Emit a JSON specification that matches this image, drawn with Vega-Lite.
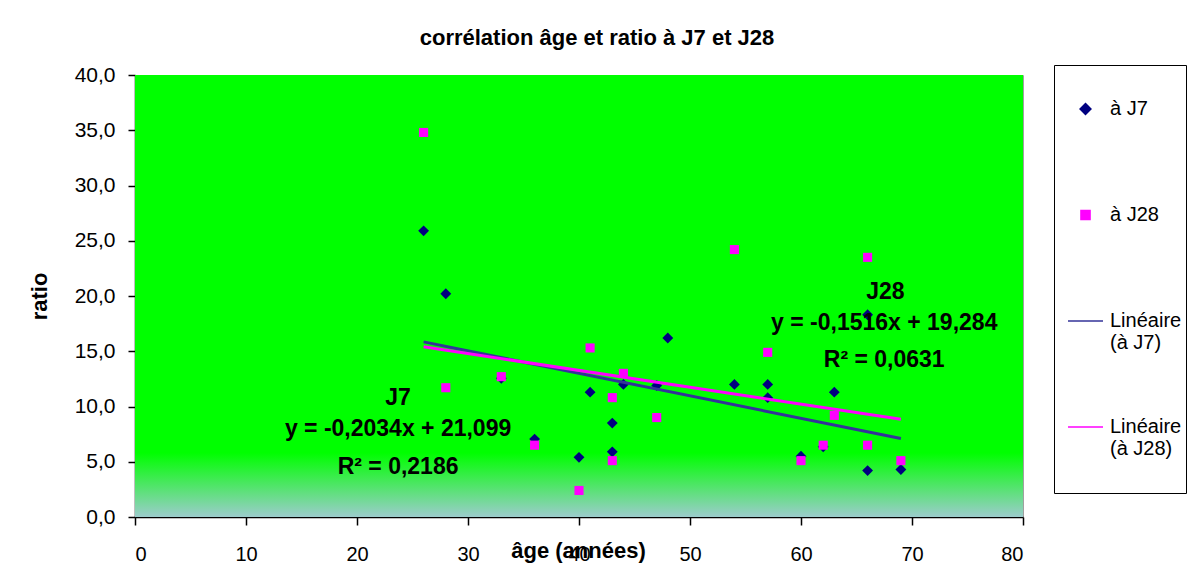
{
  "$schema": "https://vega.github.io/schema/vega-lite/v6.json",
  "width": 888,
  "height": 442,
  "autosize": {"type": "none"},
  "padding": {"left": 135, "top": 75, "right": 173, "bottom": 50},
  "background": "white",
  "title": {
    "text": "corrélation âge et ratio à J7 et J28",
    "font": "Liberation Sans",
    "fontSize": 22,
    "fontWeight": "bold",
    "color": "black",
    "anchor": "middle",
    "frame": "group",
    "dx": 18,
    "offset": 14
  },
  "datasets": {
    "pts": [
      {"age": 26, "ratio": 25.9, "series": "à J7"},
      {"age": 28, "ratio": 20.2, "series": "à J7"},
      {"age": 33, "ratio": 12.55, "series": "à J7"},
      {"age": 36, "ratio": 7.05, "series": "à J7"},
      {"age": 40, "ratio": 5.4, "series": "à J7"},
      {"age": 41, "ratio": 11.3, "series": "à J7"},
      {"age": 43, "ratio": 8.5, "series": "à J7"},
      {"age": 43, "ratio": 5.9, "series": "à J7"},
      {"age": 44, "ratio": 12.0, "series": "à J7"},
      {"age": 47, "ratio": 11.9, "series": "à J7"},
      {"age": 48, "ratio": 16.2, "series": "à J7"},
      {"age": 54, "ratio": 12.0, "series": "à J7"},
      {"age": 57, "ratio": 12.0, "series": "à J7"},
      {"age": 57, "ratio": 10.8, "series": "à J7"},
      {"age": 60, "ratio": 5.5, "series": "à J7"},
      {"age": 62, "ratio": 6.35, "series": "à J7"},
      {"age": 63, "ratio": 11.3, "series": "à J7"},
      {"age": 66, "ratio": 18.3, "series": "à J7"},
      {"age": 66, "ratio": 4.2, "series": "à J7"},
      {"age": 69, "ratio": 4.3, "series": "à J7"},
      {"age": 26, "ratio": 34.8, "series": "à J28"},
      {"age": 28, "ratio": 11.7, "series": "à J28"},
      {"age": 33, "ratio": 12.7, "series": "à J28"},
      {"age": 36, "ratio": 6.5, "series": "à J28"},
      {"age": 40, "ratio": 2.4, "series": "à J28"},
      {"age": 41, "ratio": 15.3, "series": "à J28"},
      {"age": 43, "ratio": 10.8, "series": "à J28"},
      {"age": 43, "ratio": 5.1, "series": "à J28"},
      {"age": 44, "ratio": 13.0, "series": "à J28"},
      {"age": 47, "ratio": 9.0, "series": "à J28"},
      {"age": 54, "ratio": 24.2, "series": "à J28"},
      {"age": 57, "ratio": 14.9, "series": "à J28"},
      {"age": 60, "ratio": 5.1, "series": "à J28"},
      {"age": 62, "ratio": 6.5, "series": "à J28"},
      {"age": 63, "ratio": 9.2, "series": "à J28"},
      {"age": 66, "ratio": 23.5, "series": "à J28"},
      {"age": 66, "ratio": 6.5, "series": "à J28"},
      {"age": 69, "ratio": 5.1, "series": "à J28"},
      {"age": 26, "ratio": 15.85, "series": "Linéaire (à J7)"},
      {"age": 69, "ratio": 7.1, "series": "Linéaire (à J7)"},
      {"age": 26, "ratio": 15.4, "series": "Linéaire (à J28)"},
      {"age": 69, "ratio": 8.85, "series": "Linéaire (à J28)"}
    ],
    "one": [{"k": 1}]
  },
  "layer": [
    {
      "data": {"name": "one"},
      "mark": {
        "type": "rect",
        "fill": {
          "gradient": "linear",
          "x1": 0, "y1": 0, "x2": 0, "y2": 1,
          "stops": [
            {"offset": 0, "color": "#00ff00"},
            {"offset": 0.855, "color": "#00ff00"},
            {"offset": 1, "color": "#9ccccc"}
          ]
        }
      },
      "encoding": {
        "x": {"datum": 0, "type": "quantitative"},
        "x2": {"datum": 80},
        "y": {"datum": 0, "type": "quantitative"},
        "y2": {"datum": 40}
      }
    },
    {
      "data": {"name": "pts"},
      "transform": [{"filter": "indexof(datum.series, 'Lin') != 0"}],
      "mark": {"type": "point", "filled": true, "opacity": 1, "size": 1225, "strokeWidth": 0},
      "encoding": {
        "x": {
          "field": "age",
          "type": "quantitative",
          "scale": {"domain": [0, 80], "nice": false, "zero": false},
          "axis": {
            "values": [0, 10, 20, 30, 40, 50, 60, 70, 80],
            "title": "âge (années)",
            "labelFontSize": 20,
            "tickSize": 8,
            "labelPadding": 19,
            "titleFontSize": 22,
            "titleX": 443,
            "titleY": 40,
            "titleAlign": "center",
            "titleBaseline": "alphabetic"
          }
        },
        "y": {
          "field": "ratio",
          "type": "quantitative",
          "scale": {"domain": [0, 40], "nice": false, "zero": false},
          "axis": {
            "values": [0, 5, 10, 15, 20, 25, 30, 35, 40],
            "labelExpr": "replace(format(datum.value, '.1f'), '.', ',')",
            "title": "ratio",
            "labelFontSize": 21,
            "tickSize": 7,
            "labelPadding": 13,
            "titleFontSize": 22,
            "titleX": -96,
            "titleY": 221,
            "titleAngle": 270,
            "titleAlign": "center",
            "titleBaseline": "middle"
          }
        },
        "color": {
          "field": "series",
          "type": "nominal",
          "sort": null,
          "scale": {
            "domain": ["à J7", "à J28", "Linéaire (à J7)", "Linéaire (à J28)"],
            "range": ["#000080", "#ff00ff", "#333399", "#ff00ff"]
          },
          "legend": {
            "title": " ",
            "labelExpr": "indexof(datum.label, 'Linéaire') == 0 ? ['Linéaire\u00a0', substring(datum.label, 9)] : datum.label",
            "encode": {
              "symbols": {
                "update": {
                  "fill": {"scale": "color", "field": "value"},
                  "stroke": {"scale": "color", "field": "value"},
                  "strokeWidth": {"signal": "indexof(datum.value, 'Lin') == 0 ? 3 : 0"}
                }
              },
              "labels": {"update": {"lineHeight": {"value": 24}}}
            }
          }
        },
        "shape": {
          "field": "series",
          "type": "nominal",
          "sort": null,
          "scale": {
            "domain": ["à J7", "à J28", "Linéaire (à J7)", "Linéaire (à J28)"],
            "range": ["M0,-0.31L0.31,0L0,0.31L-0.31,0Z", "M-0.26,-0.26H0.26V0.26H-0.26Z", "stroke", "stroke"]
          },
          "legend": {
            "title": " ",
            "labelExpr": "indexof(datum.label, 'Linéaire') == 0 ? ['Linéaire\u00a0', substring(datum.label, 9)] : datum.label",
            "encode": {
              "symbols": {
                "update": {
                  "fill": {"scale": "color", "field": "value"},
                  "stroke": {"scale": "color", "field": "value"},
                  "strokeWidth": {"signal": "indexof(datum.value, 'Lin') == 0 ? 3 : 0"}
                }
              },
              "labels": {"update": {"lineHeight": {"value": 24}}}
            }
          }
        }
      }
    },
    {
      "data": {"name": "pts"},
      "transform": [{"filter": "indexof(datum.series, 'Lin') == 0"}],
      "mark": {"type": "line", "strokeWidth": 3},
      "encoding": {
        "x": {"field": "age", "type": "quantitative", "title": "âge (années)"},
        "y": {"field": "ratio", "type": "quantitative", "title": "ratio"},
        "color": {"field": "series", "type": "nominal", "sort": null}
      }
    },
    {
      "data": {"name": "one"},
      "mark": {"type": "text", "text": "J7", "fontSize": 23, "fontWeight": "bold", "color": "black"},
      "encoding": {"x": {"datum": 23.7, "type": "quantitative"}, "y": {"datum": 10.77, "type": "quantitative"}}
    },
    {
      "data": {"name": "one"},
      "mark": {"type": "text", "text": "y = -0,2034x + 21,099", "fontSize": 23, "fontWeight": "bold", "color": "black"},
      "encoding": {"x": {"datum": 23.7, "type": "quantitative"}, "y": {"datum": 7.96, "type": "quantitative"}}
    },
    {
      "data": {"name": "one"},
      "mark": {"type": "text", "text": "R² = 0,2186", "fontSize": 23, "fontWeight": "bold", "color": "black"},
      "encoding": {"x": {"datum": 23.7, "type": "quantitative"}, "y": {"datum": 4.48, "type": "quantitative"}}
    },
    {
      "data": {"name": "one"},
      "mark": {"type": "text", "text": "J28", "fontSize": 23, "fontWeight": "bold", "color": "black"},
      "encoding": {"x": {"datum": 67.6, "type": "quantitative"}, "y": {"datum": 20.4, "type": "quantitative"}}
    },
    {
      "data": {"name": "one"},
      "mark": {"type": "text", "text": "y = -0,1516x + 19,284", "fontSize": 23, "fontWeight": "bold", "color": "black"},
      "encoding": {"x": {"datum": 67.5, "type": "quantitative"}, "y": {"datum": 17.56, "type": "quantitative"}}
    },
    {
      "data": {"name": "one"},
      "mark": {"type": "text", "text": "R² = 0,0631", "fontSize": 23, "fontWeight": "bold", "color": "black"},
      "encoding": {"x": {"datum": 67.5, "type": "quantitative"}, "y": {"datum": 14.2, "type": "quantitative"}}
    }
  ],
  "config": {
    "font": "Liberation Sans",
    "view": {"stroke": "#a0a0a0", "strokeWidth": 1},
    "axis": {
      "grid": false,
      "domainColor": "black",
      "domainWidth": 1.5,
      "tickColor": "black",
      "tickWidth": 1.5,
      "labelColor": "black",
      "titleColor": "black",
      "labelFont": "Liberation Sans",
      "titleFont": "Liberation Sans",
      "titleFontWeight": "bold"
    },
    "legend": {
      "orient": "none",
      "legendX": 919,
      "legendY": -10,
      "padding": 4,
      "strokeColor": "black",
      "fillColor": "white",
      "cornerRadius": 0,
      "clipHeight": 80,
      "rowPadding": 26,
      "symbolSize": 1225,
      "symbolOffset": 9,
      "labelOffset": 6,
      "labelFont": "Liberation Sans",
      "labelFontSize": 20,
      "labelColor": "black",
      "labelLimit": 300,
      "titleOrient": "bottom",
      "titleFontSize": 10,
      "titlePadding": 12
    },
    "text": {"font": "Liberation Sans"}
  }
}
